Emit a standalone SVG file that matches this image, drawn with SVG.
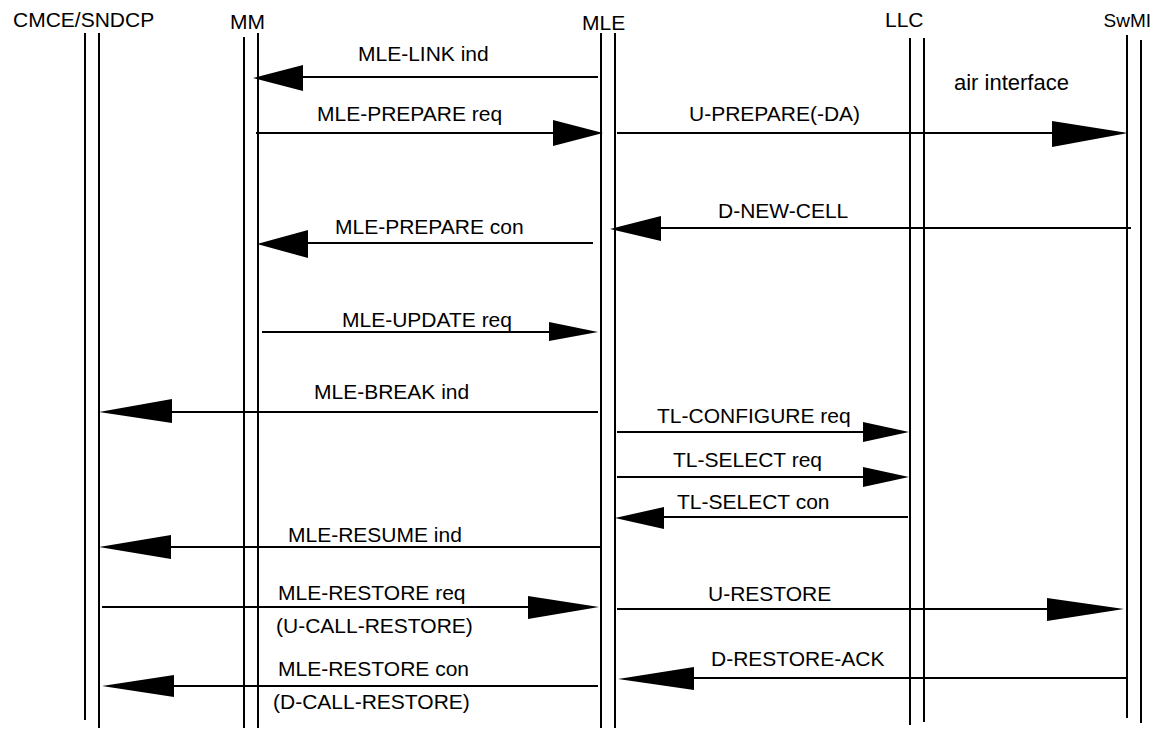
<svg xmlns="http://www.w3.org/2000/svg" width="1157" height="729" viewBox="0 0 1157 729">
<style>
.bg{fill:#fff}
.life{stroke:#000;stroke-width:2;fill:none}
.msg{stroke:#000;stroke-width:2;fill:none}
.head{fill:#000;stroke:none}
text{font-family:"Liberation Sans",Arial,Helvetica,sans-serif;font-size:21px;fill:#000}
</style>
<rect class="bg" x="0" y="0" width="1157" height="729"/>
<g id="node-cmce">
<text x="13" y="27">CMCE/SNDCP</text>
<line class="life" x1="85" y1="33" x2="85" y2="720"/>
<line class="life" x1="99" y1="33" x2="99" y2="728"/>
</g>
<g id="node-mm">
<text x="230" y="29">MM</text>
<line class="life" x1="244" y1="37" x2="244" y2="728"/>
<line class="life" x1="258" y1="33" x2="258" y2="728"/>
</g>
<g id="node-mle">
<text x="582" y="30">MLE</text>
<line class="life" x1="601" y1="33" x2="601" y2="728"/>
<line class="life" x1="615" y1="33" x2="615" y2="728"/>
</g>
<g id="node-llc">
<text x="885" y="27">LLC</text>
<line class="life" x1="910" y1="38" x2="910" y2="725"/>
<line class="life" x1="924" y1="38" x2="924" y2="722"/>
</g>
<g id="node-swmi">
<text x="1151" y="27" text-anchor="end" style="font-size:19px">SwMI</text>
<line class="life" x1="1127" y1="35" x2="1127" y2="718"/>
<line class="life" x1="1141" y1="40" x2="1141" y2="723"/>
<text x="954" y="90" style="font-size:22px">air interface</text>
</g>
<g id="connectors">
<g id="c-mle-link">
<line class="msg" x1="598" y1="77" x2="300" y2="77"/>
<polygon class="head" points="253,78 303,65 303,91"/>
<text x="358" y="61">MLE-LINK ind</text>
</g>
<g id="c-mle-prepare-req">
<line class="msg" x1="256" y1="133" x2="556" y2="133"/>
<polygon class="head" points="603,133 553,120 553,146"/>
<text x="317" y="121">MLE-PREPARE req</text>
</g>
<g id="c-u-prepare">
<line class="msg" x1="617" y1="133" x2="1055" y2="133"/>
<polygon class="head" points="1128,133 1052,121 1052,147"/>
<text x="689" y="121">U-PREPARE(-DA)</text>
</g>
<g id="c-d-new-cell">
<line class="msg" x1="1131" y1="228" x2="658" y2="228"/>
<polygon class="head" points="610,229 661,216 661,241"/>
<text x="718" y="218">D-NEW-CELL</text>
</g>
<g id="c-mle-prepare-con">
<line class="msg" x1="593" y1="243" x2="305" y2="243"/>
<polygon class="head" points="257,244 308,230 308,258"/>
<text x="335" y="234">MLE-PREPARE con</text>
</g>
<g id="c-mle-update-req">
<line class="msg" x1="262" y1="332" x2="552" y2="332"/>
<polygon class="head" points="598,332 549,322 549,341"/>
<text x="342" y="327">MLE-UPDATE req</text>
</g>
<g id="c-mle-break">
<line class="msg" x1="598" y1="412" x2="169" y2="412"/>
<polygon class="head" points="99,412 172,399 172,423"/>
<text x="314" y="399">MLE-BREAK ind</text>
</g>
<g id="c-tl-configure">
<line class="msg" x1="617" y1="432" x2="866" y2="432"/>
<polygon class="head" points="909,432 863,422 863,442"/>
<text x="657" y="423">TL-CONFIGURE req</text>
</g>
<g id="c-tl-select-req">
<line class="msg" x1="617" y1="477" x2="866" y2="477"/>
<polygon class="head" points="909,477 863,467 863,487"/>
<text x="673" y="467">TL-SELECT req</text>
</g>
<g id="c-tl-select-con">
<line class="msg" x1="908" y1="517" x2="661" y2="517"/>
<polygon class="head" points="615,518 664,507 664,529"/>
<text x="677" y="509">TL-SELECT con</text>
</g>
<g id="c-mle-resume">
<line class="msg" x1="600" y1="547" x2="168" y2="547"/>
<polygon class="head" points="99,547 171,535 171,559"/>
<text x="288" y="542">MLE-RESUME ind</text>
</g>
<g id="c-mle-restore-req">
<line class="msg" x1="102" y1="607" x2="531" y2="607"/>
<polygon class="head" points="599,607 528,596 528,619"/>
<text x="278" y="600">MLE-RESTORE req</text>
<text x="276" y="633">(U-CALL-RESTORE)</text>
</g>
<g id="c-u-restore">
<line class="msg" x1="617" y1="609" x2="1050" y2="609"/>
<polygon class="head" points="1124,609 1047,598 1047,621"/>
<text x="708" y="601">U-RESTORE</text>
</g>
<g id="c-d-restore-ack">
<line class="msg" x1="1126" y1="678" x2="691" y2="678"/>
<polygon class="head" points="618,679 694,667 694,690"/>
<text x="711" y="666">D-RESTORE-ACK</text>
</g>
<g id="c-mle-restore-con">
<line class="msg" x1="598" y1="686" x2="171" y2="686"/>
<polygon class="head" points="102,686 174,675 174,697"/>
<text x="278" y="676">MLE-RESTORE con</text>
<text x="273" y="709">(D-CALL-RESTORE)</text>
</g>
</g>
</svg>
